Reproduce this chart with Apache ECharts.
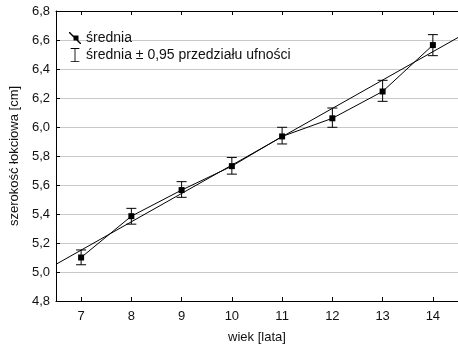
<!DOCTYPE html>
<html><head><meta charset="utf-8">
<script src="https://cdn.jsdelivr.net/npm/echarts@6/dist/echarts.min.js"></script>
<style>html,body{margin:0;padding:0;background:#fff}#c{width:458px;height:351px}</style>
</head><body><div id="c"></div>
<script>
var ages = [7, 8, 9, 10, 11, 12, 13, 14];
var means = [5.10, 5.385, 5.565, 5.73, 5.935, 6.06, 6.245, 6.565];
var ciLow = [5.05, 5.33, 5.515, 5.675, 5.883, 5.998, 6.177, 6.492];
var ciHigh = [5.152, 5.439, 5.623, 5.79, 5.998, 6.131, 6.322, 6.637];
var regX = [6.5, 14.5];
var regY = [5.053, 6.617];
var xTicks = [7, 8, 9, 10, 11, 12, 13, 14];
var nameMean = 'średnia';
var nameCI = 'średnia ± 0,95 przedziału ufności';

var chart = echarts.init(document.getElementById('c'));
var font = 'Liberation Sans, Arial, sans-serif';
var meanData = ages.map(function (a, i) { return [a, means[i]]; });
var ciData = ages.map(function (a, i) { return [a, ciLow[i], ciHigh[i]]; });
var regData = regX.map(function (x, i) { return [x, regY[i]]; });

chart.setOption({
  animation: false,
  textStyle: { fontFamily: font },
  grid: { left: 50, top: 11, right: -3, bottom: 50 },
  legend: {
    orient: 'vertical', left: 64, top: 26, itemWidth: 12, itemHeight: 14, itemGap: 3,
    textStyle: { fontFamily: font, fontSize: 14, color: '#111' },
    itemStyle: { color: '#000' },
    data: [
      { name: nameMean, icon: 'path://M0 0L1 0L12 11L12 12L11 12L0 1ZM4.5 3.5H9.5V8.5H4.5Z' },
      { name: nameCI, icon: 'path://M0 0H10V1H5.5V15H10V16H0V15H4.5V1H0Z' }
    ]
  },
  xAxis: [{
    type: 'value', min: 6.5, max: 14.5, position: 'bottom',
    name: 'wiek [lata]', nameLocation: 'middle', nameGap: 30,
    nameTextStyle: { fontFamily: font, fontSize: 13, color: '#111' },
    axisLine: { show: true, onZero: false, lineStyle: { color: '#000', width: 1 } },
    axisTick: { show: true, inside: true, length: 4, customValues: xTicks, lineStyle: { color: '#000' } },
    axisLabel: { customValues: xTicks, fontFamily: font, fontSize: 13, color: '#111', margin: 9 },
    splitLine: { show: false }
  }, {
    type: 'value', min: 6.5, max: 14.5, position: 'top',
    axisLine: { show: true, onZero: false, lineStyle: { color: '#000', width: 1 } },
    axisTick: { show: true, inside: true, length: 4, customValues: xTicks, lineStyle: { color: '#000' } },
    axisLabel: { show: false },
    splitLine: { show: false }
  }],
  yAxis: {
    type: 'value', min: 4.8, max: 6.8, interval: 0.2,
    name: 'szerokość łokciowa [cm]', nameLocation: 'middle', nameGap: 33,
    nameTextStyle: { fontFamily: font, fontSize: 13, color: '#111' },
    axisLine: { show: true, onZero: false, lineStyle: { color: '#000', width: 1 } },
    axisTick: { show: true, inside: true, length: 4, lineStyle: { color: '#000' } },
    axisLabel: {
      fontFamily: font, fontSize: 13, color: '#111', margin: 6,
      formatter: function (v) { return v.toFixed(1).replace('.', ','); }
    },
    splitLine: { show: true, lineStyle: { color: '#c8c8c8', width: 1 } }
  },
  series: [{
    name: 'regresja', type: 'line', data: regData, symbol: 'none', silent: true,
    lineStyle: { color: '#000', width: 1 }, itemStyle: { color: '#000' }, z: 2
  }, {
    name: nameMean, type: 'line', data: meanData, symbol: 'rect', symbolSize: 6,
    lineStyle: { color: '#000', width: 1 }, itemStyle: { color: '#000' }, z: 4
  }, {
    name: nameCI, type: 'custom', data: ciData, z: 3,
    itemStyle: { color: '#000' },
    encode: { x: 0, y: [1, 2] },
    renderItem: function (params, api) {
      var x = api.value(0);
      var lo = api.coord([x, api.value(1)]);
      var hi = api.coord([x, api.value(2)]);
      var hw = 5;
      var st = { stroke: '#000', lineWidth: 1, fill: null };
      return {
        type: 'group', children: [
          { type: 'line', shape: { x1: hi[0], y1: hi[1], x2: lo[0], y2: lo[1] }, style: st },
          { type: 'line', shape: { x1: hi[0] - hw, y1: hi[1], x2: hi[0] + hw, y2: hi[1] }, style: st },
          { type: 'line', shape: { x1: lo[0] - hw, y1: lo[1], x2: lo[0] + hw, y2: lo[1] }, style: st }
        ]
      };
    }
  }]
});
</script>
</body></html>
